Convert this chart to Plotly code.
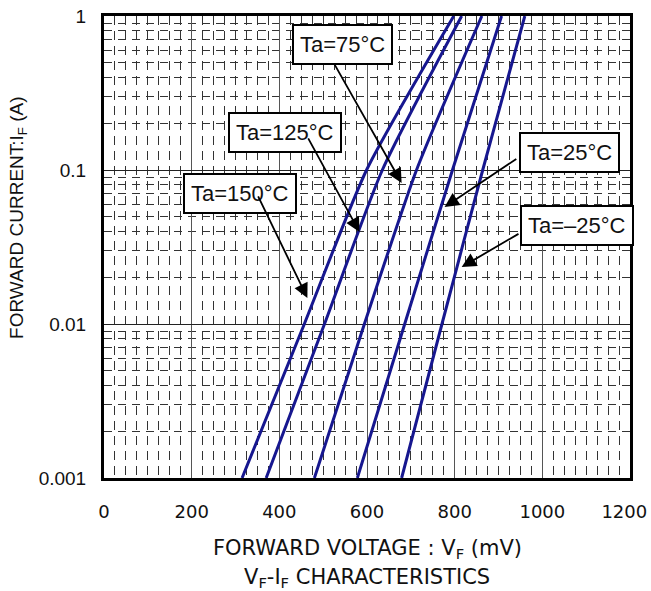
import math
import plotly.graph_objects as go

# ---- data ----
current_A = [0.001, 0.01, 0.1, 1.0]
vf_150 = [315, 457, 599, 798]
vf_125 = [370, 503, 635, 816]
vf_75 = [480, 594, 713, 862]
vf_25 = [578, 686, 795, 907]
vf_m25 = [679, 771, 864, 960]

x_ticks = [0, 200, 400, 600, 800, 1000, 1200]
x_tick_text = ["0", "200", "400", "600", "800", "1000", "1200\u00a0\u00a0"]
y_ticks = [0.001, 0.01, 0.1, 1]
y_tick_text = ["0.001", "0.01", "0.1", "1"]
y_minor = [m * d for d in [0.001, 0.01, 0.1] for m in range(2, 10)]

labels = ["Ta=75°C", "Ta=125°C", "Ta=150°C", "Ta=25°C", "Ta=–25°C"]
# label box centres (mV, A)
label_x = [544, 412, 310, 1063, 1079]
label_y = [0.653, 0.174, 0.0706, 0.129, 0.0433]
# arrow tails and tips (mV, A)
tail_x = [523, 464, 350, 944, 949]
tail_y = [0.502, 0.164, 0.0689, 0.1197, 0.039]
tip_x = [679, 583, 464, 777, 816]
tip_y = [0.0824, 0.0395, 0.01476, 0.0575, 0.02344]

navy = "#17178f"
fig = go.Figure()
for vf in [vf_150, vf_125, vf_75, vf_25, vf_m25]:
    fig.add_trace(go.Scatter(x=vf, y=current_A, mode="lines",
                             line=dict(color=navy, width=3, shape="spline",
                                       smoothing=0.6),
                             showlegend=False, hoverinfo="skip"))

font_family = "Liberation Sans, Arial, sans-serif"
wide_family = "DejaVu Sans, sans-serif"
annotations = []
for t, lx, ly in zip(labels, label_x, label_y):
    annotations.append(dict(x=lx, y=math.log10(ly), xref="x", yref="y",
                            text=t, showarrow=False, bgcolor="white",
                            bordercolor="black", borderwidth=2, borderpad=6,
                            xanchor="center", yanchor="middle",
                            font=dict(size=22, color="#111", family=font_family)))
for ax_, ay_, px_, py_ in zip(tail_x, tail_y, tip_x, tip_y):
    annotations.append(dict(x=px_, y=math.log10(py_), xref="x", yref="y",
                            ax=ax_, ay=math.log10(ay_), axref="x", ayref="y",
                            text="", showarrow=True, arrowhead=2, arrowsize=1.6,
                            arrowwidth=1.8, arrowcolor="black", standoff=0,
                            startstandoff=0))
annotations += [
    dict(x=0.5, y=-0.1537, xref="paper", yref="paper", xanchor="center",
         yanchor="middle",
         text="FORWARD VOLTAGE : V<sub>F</sub> (mV)", showarrow=False,
         font=dict(size=21, color="#111", family=wide_family)),
    dict(x=0.5, y=-0.2165, xref="paper", yref="paper", xanchor="center",
         yanchor="middle",
         text="V<sub>F</sub>-I<sub>F</sub> CHARACTERISTICS", showarrow=False,
         font=dict(size=21, color="#111", family=wide_family)),
    dict(x=-0.1635, y=0.563, xref="paper", yref="paper", textangle=-90,
         xanchor="center", yanchor="middle",
         text="FORWARD CURRENT:I<sub>F</sub> (A)", showarrow=False,
         font=dict(size=19, color="#111", family=font_family)),
]

fig.update_layout(
    width=651, height=591,
    margin=dict(l=104, r=21, t=16, b=113, autoexpand=False),
    paper_bgcolor="white", plot_bgcolor="white",
    annotations=annotations,
    font=dict(family=font_family, size=19, color="#111"),
)
fig.update_xaxes(range=[0, 1200], tickvals=x_ticks, ticktext=x_tick_text,
                 ticks="", ticklabelstandoff=15,
                 automargin=False, ticklabeloverflow="allow",
                 tickfont=dict(family=wide_family, size=18, color="#111"),
                 showgrid=True, gridcolor="#555", gridwidth=1,
                 showline=True, linecolor="black", linewidth=3, mirror=True,
                 zeroline=False,
                 minor=dict(dtick=25, showgrid=True, gridcolor="#333", gridwidth=1,
                            griddash="9px,6px"))
fig.update_yaxes(type="log", range=[-3, 0], tickvals=y_ticks, ticktext=y_tick_text,
                 ticks="", ticklabelstandoff=11, automargin=False,
                 showgrid=True, gridcolor="#222", gridwidth=1,
                 showline=True, linecolor="black", linewidth=3, mirror=True,
                 zeroline=False,
                 minor=dict(tickvals=y_minor, showgrid=True, gridcolor="#333",
                            gridwidth=1, griddash="8px,6px"))

fig.write_html("out.html", config={"displayModeBar": False},
               post_script="document.body.style.margin='0px';"
                           "document.body.style.overflow='hidden';")
